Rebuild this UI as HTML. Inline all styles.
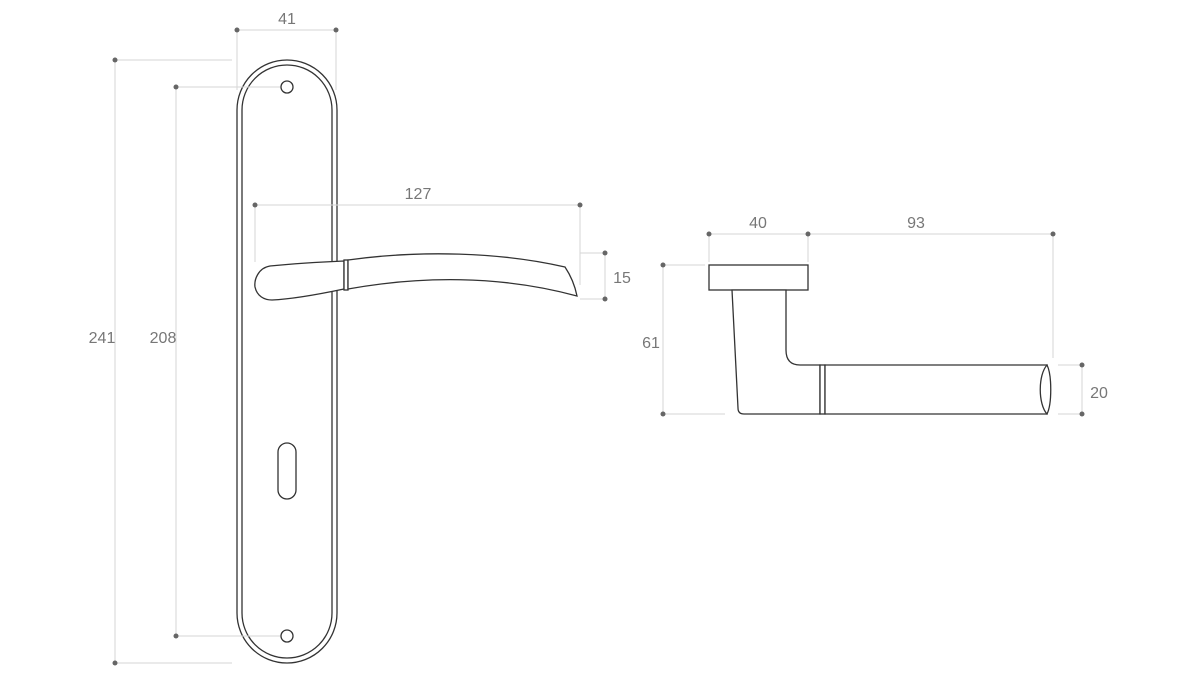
<!DOCTYPE html>
<html><head><style>body{margin:0;background:#fff}svg{display:block}text{font-family:"Liberation Sans",sans-serif;font-size:16px;fill:#777;text-anchor:middle}</style></head>
<body>
<svg width="1200" height="675" viewBox="0 0 1200 675">
<g stroke="#333" stroke-width="1.3" fill="#fff">
<rect x="237" y="60" width="100" height="603" rx="50"/>
<rect x="242" y="65" width="90" height="593" rx="45"/>
<rect x="278" y="443" width="18" height="56" rx="9"/>
</g>
<g stroke="#d6d6d6" stroke-width="1" fill="none">
<line x1="237" y1="30" x2="336" y2="30"/><line x1="237" y1="30" x2="237" y2="90"/><line x1="336" y1="30" x2="336" y2="90"/>
<line x1="115" y1="60" x2="115" y2="663"/><line x1="115" y1="60" x2="232" y2="60"/><line x1="115" y1="663" x2="232" y2="663"/>
<line x1="176" y1="87" x2="176" y2="636"/><line x1="176" y1="87" x2="281" y2="87"/><line x1="176" y1="636" x2="281" y2="636"/>
<line x1="255" y1="205" x2="580" y2="205"/><line x1="255" y1="205" x2="255" y2="262"/><line x1="580" y1="205" x2="580" y2="285"/>
<line x1="605" y1="253" x2="605" y2="299"/><line x1="580" y1="253" x2="605" y2="253"/><line x1="580" y1="299" x2="605" y2="299"/>
<line x1="709" y1="234" x2="1053" y2="234"/><line x1="709" y1="234" x2="709" y2="262"/><line x1="808" y1="234" x2="808" y2="262"/><line x1="1053" y1="234" x2="1053" y2="358"/>
<line x1="663" y1="265" x2="663" y2="414"/><line x1="663" y1="265" x2="705" y2="265"/><line x1="663" y1="414" x2="725" y2="414"/>
<line x1="1082" y1="365" x2="1082" y2="414"/><line x1="1058" y1="365" x2="1082" y2="365"/><line x1="1058" y1="414" x2="1082" y2="414"/>
</g>
<g fill="#666">
<circle cx="237" cy="30" r="2.5"/><circle cx="336" cy="30" r="2.5"/>
<circle cx="115" cy="60" r="2.5"/><circle cx="115" cy="663" r="2.5"/>
<circle cx="176" cy="87" r="2.5"/><circle cx="176" cy="636" r="2.5"/>
<circle cx="255" cy="205" r="2.5"/><circle cx="580" cy="205" r="2.5"/>
<circle cx="605" cy="253" r="2.5"/><circle cx="605" cy="299" r="2.5"/>
<circle cx="709" cy="234" r="2.5"/><circle cx="808" cy="234" r="2.5"/><circle cx="1053" cy="234" r="2.5"/>
<circle cx="663" cy="265" r="2.5"/><circle cx="663" cy="414" r="2.5"/>
<circle cx="1082" cy="365" r="2.5"/><circle cx="1082" cy="414" r="2.5"/>
</g>
<text x="287" y="24">41</text>
<text x="102" y="343">241</text>
<text x="163" y="343">208</text>
<text x="418" y="199">127</text>
<text x="622" y="283">15</text>
<text x="758" y="228">40</text>
<text x="916" y="228">93</text>
<text x="651" y="348">61</text>
<text x="1099" y="398">20</text>
<g stroke="#333" stroke-width="1.3" fill="#fff">
<circle cx="287" cy="87" r="6"/><circle cx="287" cy="636" r="6"/>
<path d="M344,261 C320,262 290,264 270,266 C258,268 254,280 255,287 C257,296 264,300 272,300 C295,299 325,293 344,289 Z"/>
<rect x="344" y="260" width="4" height="30"/>
<path d="M348,260 C420,250 500,252 565,267 C571,276 575,286 577,296 C500,275 420,276 348,289 Z"/>
<rect x="709" y="265" width="99" height="25"/>
<path d="M732,290 L738,408 Q738,414 744,414 L820,414 L820,365 L800,365 Q786,365 786,350 L786,290 Z"/>
<rect x="820" y="365" width="5" height="49"/>
<path d="M825,365 L1047,365 L1047,414 L825,414 Z"/>
<path d="M1047,365 C1038,375 1038,404 1047,414 C1052,404 1052,375 1047,365 Z"/>
</g>
</svg>
</body></html>
